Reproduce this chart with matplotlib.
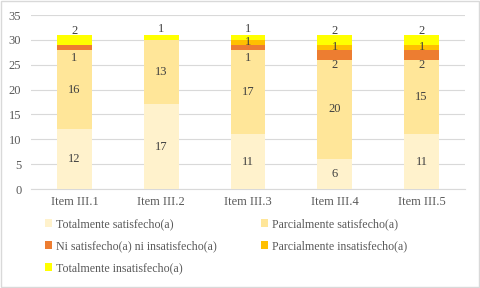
import matplotlib.pyplot as plt
import numpy as np
from matplotlib.patches import Rectangle

plt.rcParams['font.family'] = ['Liberation Serif', 'DejaVu Serif']

items = ['Item III.1', 'Item III.2', 'Item III.3', 'Item III.4', 'Item III.5']
series = ['Totalmente satisfecho(a)', 'Parcialmente satisfecho(a)',
          'Ni satisfecho(a) ni insatisfecho(a)', 'Parcialmente insatisfecho(a)',
          'Totalmente insatisfecho(a)']
tot_sat = [12, 17, 11, 6, 11]
par_sat = [16, 13, 17, 20, 15]
ni_ni = [1, 0, 1, 2, 2]
par_insat = [0, 0, 1, 1, 1]
tot_insat = [2, 1, 1, 2, 2]

colors = ['#FFF2CC', '#FFE699', '#ED7D31', '#FFC000', '#FFFF00']
# label shifts (data units) to mimic the excel label placement
shifts = [0, 0, -2.1, 0, 1.7]

fig = plt.figure(figsize=(4.8, 2.88), dpi=100)
ax = fig.add_axes([31 / 480, 1 - 189 / 288, 434 / 480, 174 / 288])

x = np.arange(len(items))
bottom = np.zeros(len(items))
handles = []
for vals, col, name, sh in zip([tot_sat, par_sat, ni_ni, par_insat, tot_insat], colors, series, shifts):
    vals = np.array(vals, dtype=float)
    b = ax.bar(x, vals, 0.40, bottom=bottom, color=col, label=name, zorder=3)
    handles.append(b)
    for xi, v, bo in zip(x, vals, bottom):
        if v > 0:
            ax.text(xi, bo + v / 2 + sh, '%d' % v, ha='center', va='center',
                    fontsize=9, color='#404040', zorder=4)
    bottom += vals

ax.set_xlim(-0.5, 4.5)
ax.set_ylim(0, 35)
ax.set_yticks(range(0, 36, 5))
ax.set_xticks(x)
ax.set_xticklabels(items)
ax.grid(axis='y', color='#D9D9D9', linewidth=0.8, zorder=0)
for s in ['top', 'right', 'left']:
    ax.spines[s].set_visible(False)
ax.spines['bottom'].set_color('#D9D9D9')
ax.tick_params(length=0, labelsize=9, labelcolor='#595959')
ax.tick_params(axis='y', pad=7)
ax.tick_params(axis='x', pad=5)

order = [0, 2, 4, 1, 3]
fig.legend([handles[i] for i in order], [series[i] for i in order],
           ncol=2, loc='upper left', bbox_to_anchor=(45 / 480, 1 - 218 / 288),
           frameon=False, fontsize=8.6, labelcolor='#595959',
           borderpad=0, borderaxespad=0,
           handlelength=0.6, handleheight=0.6, handletextpad=0.3,
           columnspacing=3.7, labelspacing=0.85)

fig.patches.append(Rectangle((0.002, 0.003), 0.995, 0.993, transform=fig.transFigure,
                             fill=False, edgecolor='#D9D9D9', linewidth=1))

plt.savefig('out.png', dpi=100)
